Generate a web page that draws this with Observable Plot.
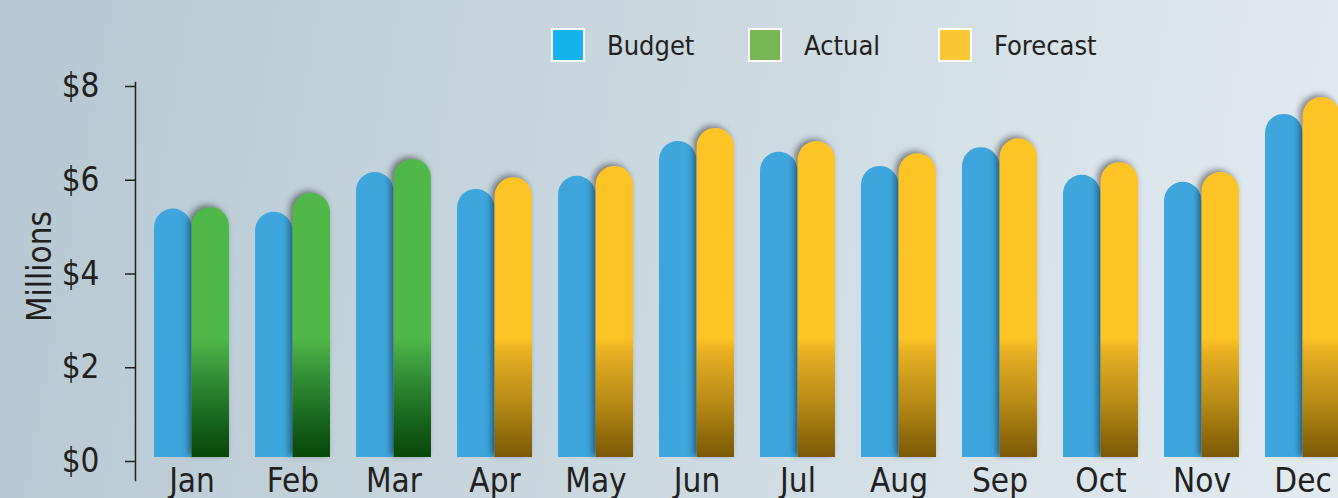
<!DOCTYPE html>
<html><head><meta charset="utf-8">
<script src="https://cdn.jsdelivr.net/npm/d3@7"></script>
<script src="https://cdn.jsdelivr.net/npm/@observablehq/plot@0.6"></script>
<style>
html,body{margin:0;padding:0;}
body{width:1338px;height:498px;overflow:hidden;background:linear-gradient(100deg,#b5c8d3 0%,#c9d7df 45%,#e3ebf1 100%);font-family:"Liberation Sans Narrow","DejaVu Sans Condensed","Roboto",sans-serif;color:#231f20;}
#wrap{position:relative;width:1338px;height:498px;}
#chart{position:absolute;left:0;top:0;}
.item{position:absolute;top:28px;display:flex;align-items:center;font-size:27px;height:34px;}
.sw{width:30px;height:30px;border:2px solid #fff;margin-right:22px;}
</style></head>
<body>
<div id="wrap">
  <div id="chart"></div>
  <div id="legend"></div>
</div>
<script>
const months = ["Jan","Feb","Mar","Apr","May","Jun","Jul","Aug","Sep","Oct","Nov","Dec"];
const budget = [5.30,5.23,6.08,5.72,6.00,6.74,6.51,6.21,6.61,6.02,5.87,7.32];
const actual = [5.33,5.63,6.36,null,null,null,null,null,null,null,null,null];
const forecast = [null,null,null,5.97,6.21,7.02,6.74,6.48,6.80,6.29,6.08,7.68];
const yTicks = [0,2,4,6,8];
const yTitle = "Millions";
const legendNames = ["Budget","Actual","Forecast"];
const legendColors = ["#14b2ea","#78b854","#fcc634"];

const budgetRows = months.map((m,i)=>({month:m, value:budget[i]}));
const actualRows = months.map((m,i)=>({month:m, value:actual[i]})).filter(d=>d.value!=null);
const forecastRows = months.map((m,i)=>({month:m, value:forecast[i]})).filter(d=>d.value!=null);

const W = 1338, H = 498;
const xRange = [135, 1358];
const pin = 0.26, pout = 0.16;
const bw = d3.scaleBand().domain(months).range(xRange).paddingInner(pin).paddingOuter(pout).bandwidth();
const half = bw/2;

const defs = (index, scales) => {
  const g = d3.create("svg:defs");
  const mk = (id, top, stops) => {
    const lg = g.append("linearGradient").attr("id", id)
      .attr("gradientUnits","userSpaceOnUse")
      .attr("x1",0).attr("x2",0)
      .attr("y1", scales.y(top)).attr("y2", scales.y(0));
    stops.forEach(([o,c]) => lg.append("stop").attr("offset",o).attr("stop-color",c));
  };
  mk("gGreen", 2.55, [[0,"#50b848"],[0.35,"#2f8c35"],[0.75,"#145e19"],[1,"#094709"]]);
  mk("gYellow", 2.55, [[0,"#fec325"],[0.12,"#e8b022"],[0.55,"#b68a16"],[1,"#7a5806"]]);
  return g.node();
};

const shadow = "drop-shadow(-3px -2px 3px rgba(0,0,0,0.45))";
const font = '"Liberation Sans Narrow","DejaVu Sans Condensed",sans-serif';

const chart = Plot.plot({
  width: W, height: H,
  marginLeft: 135, marginTop: 82, marginBottom: 18, marginRight: 0,
  style: {background:"transparent", fontFamily: font, color:"#231f20", overflow:"visible"},
  x: {type:"band", domain: months, range: xRange, paddingInner: pin, paddingOuter: pout},
  y: {domain:[0,8], range:[457,82]},
  marks: [
    defs,
    Plot.barY(budgetRows, {x:"month", y:"value", fill:"#3ea6dd", insetRight: half, insetLeft: 0, ry1: half}),
    Plot.barY(actualRows, {x:"month", y:"value", fill:"url(#gGreen)", insetLeft: half, insetRight: 0, ry1: half, imageFilter: shadow}),
    Plot.barY(forecastRows, {x:"month", y:"value", fill:"url(#gYellow)", insetLeft: half, insetRight: 0, ry1: half, imageFilter: shadow}),
    Plot.frame({anchor:"left", stroke:"#231f20", strokeWidth:1.5}),
    Plot.axisY(yTicks, {tickSize:10, tickPadding:26, tickFormat: d => "$" + d, fontSize:33, stroke:"#231f20", strokeWidth:1.5, dy:4, label:null}),
    Plot.text([yTitle], {frameAnchor:"left", textAnchor:"middle", lineAnchor:"middle", rotate:-90, dx:-95, dy:-15, fontSize:33, fill:"#231f20"}),
    Plot.axisX({tickSize:0, tickPadding:0, fontSize:33, dy:-12, label:null})
  ]
});
document.getElementById("chart").appendChild(chart);

const legendLefts = [551, 748, 938];
const leg = document.getElementById("legend");
legendNames.forEach((n,i)=>{
  const it = document.createElement("div");
  it.className = "item";
  it.style.left = legendLefts[i] + "px";
  it.innerHTML = `<div class="sw" style="background:${legendColors[i]}"></div><span>${n}</span>`;
  leg.appendChild(it);
});
</script>
</body></html>
